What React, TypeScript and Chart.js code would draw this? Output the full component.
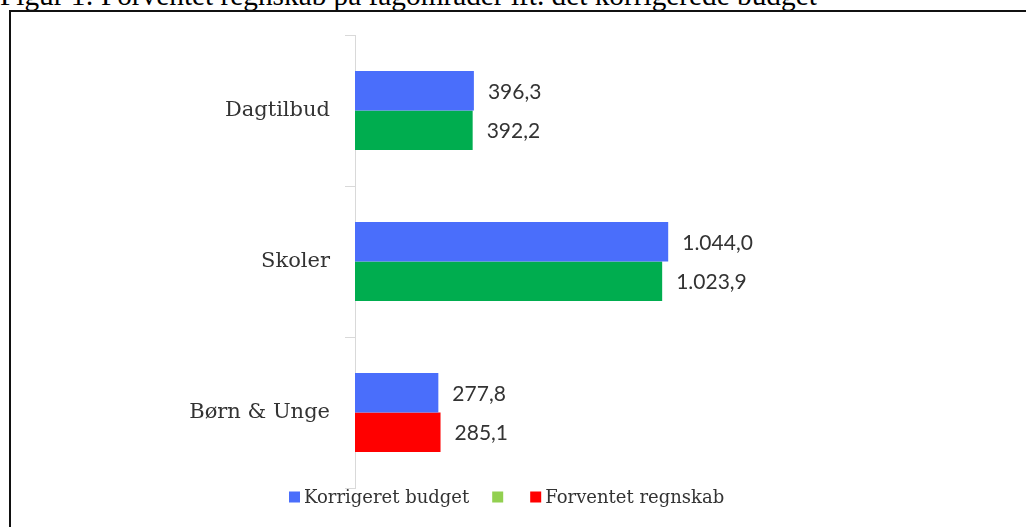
import React, { useEffect, useRef } from "react";
import { Chart, registerables } from "chart.js";

Chart.register(...registerables);

const titleText = "Figur 1: Forventet regnskab på fagområder ift. det korrigerede budget";
const categories = ["Dagtilbud", "Skoler", "Børn & Unge"];
const budgetValues = [396.3, 1044.0, 277.8];
const forecastValues = [392.2, 1023.9, 285.1];
const seriesNames = ["Korrigeret budget", "Forventet regnskab"];
const budgetColor = "#4A6EFB";
const forecastColors = ["#00AD4F", "#00AD4F", "#FF0000"];
const legendLabels = ["Korrigeret budget", "", "Forventet regnskab"];
const legendColors = ["#4A6EFB", "#92D050", "#FF0000"];
const xMax = 2000;

const serifFont = "'DejaVu Serif', serif";
const numberFont = "Lato, sans-serif";
const textColor = "#333333";

function fmt(v: number): string {
  const fixed = v.toFixed(1);
  const parts = fixed.split(".");
  const intPart = parts[0].replace(/\B(?=(\d{3})+(?!\d))/g, ".");
  return intPart + "," + parts[1];
}

const valueLabelPlugin = {
  id: "valueLabels",
  afterDatasetsDraw(chart: any) {
    const ctx = chart.ctx;
    ctx.save();
    ctx.font = `21px ${numberFont}`;
    ctx.fillStyle = textColor;
    ctx.textAlign = "left";
    ctx.textBaseline = "middle";
    chart.data.datasets.forEach((ds: any, i: number) => {
      const meta = chart.getDatasetMeta(i);
      meta.data.forEach((el: any, j: number) => {
        ctx.fillText(fmt(ds.data[j]), el.x + 14, el.y + 1);
      });
    });
    ctx.restore();
  },
};

const customLegendPlugin = {
  id: "customLegend",
  afterDraw(chart: any) {
    const ctx = chart.ctx;
    ctx.save();
    ctx.font = `18px ${serifFont}`;
    ctx.textBaseline = "middle";
    ctx.textAlign = "left";
    const cy = chart.chartArea.bottom + 9;
    let x = 278;
    const box = 11;
    legendLabels.forEach((label, i) => {
      ctx.fillStyle = legendColors[i];
      ctx.fillRect(x, cy - box / 2, box, box);
      x += box + 4;
      if (label) {
        ctx.fillStyle = textColor;
        ctx.fillText(label, x, cy + 1);
        x += ctx.measureText(label).width;
      }
      x += 23;
    });
    ctx.restore();
  },
};

export default function App() {
  const canvasRef = useRef<HTMLCanvasElement | null>(null);

  useEffect(() => {
    if (!canvasRef.current) return;
    const chart = new Chart(canvasRef.current, {
      type: "bar",
      data: {
        labels: categories,
        datasets: [
          {
            label: seriesNames[0],
            data: budgetValues,
            backgroundColor: budgetColor,
            categoryPercentage: 0.523,
            barPercentage: 1,
          },
          {
            label: seriesNames[1],
            data: forecastValues,
            backgroundColor: forecastColors,
            categoryPercentage: 0.523,
            barPercentage: 1,
          },
        ],
      },
      options: {
        indexAxis: "y",
        responsive: false,
        maintainAspectRatio: false,
        animation: false,
        devicePixelRatio: 1,
        layout: { padding: { top: 23, bottom: 39, left: 0, right: 71 } },
        plugins: {
          legend: { display: false },
          tooltip: { enabled: false },
          title: { display: false },
        },
        scales: {
          x: { display: false, min: 0, max: xMax },
          y: {
            afterFit: (scale: any) => {
              scale.width = 344;
              scale.paddingTop = 0;
              scale.paddingBottom = 0;
            },
            grid: {
              display: true,
              drawOnChartArea: false,
              drawTicks: true,
              tickLength: 10,
              color: "#d9d9d9",
              offset: true,
            },
            border: { display: true, color: "#d9d9d9", width: 1 },
            ticks: {
              font: { family: serifFont, size: 21 },
              color: textColor,
              padding: 15,
            },
          },
        },
      },
      plugins: [valueLabelPlugin, customLegendPlugin],
    } as any);
    return () => chart.destroy();
  }, []);

  return (
    <div
      style={{
        position: "fixed",
        left: 0,
        top: 0,
        width: 1026,
        height: 527,
        overflow: "hidden",
        background: "#fff",
      }}
    >
      <div
        style={{
          position: "absolute",
          left: 0,
          top: -19,
          fontFamily: "'Liberation Serif', 'Times New Roman', serif",
          fontSize: 29.3,
          lineHeight: "29px",
          whiteSpace: "nowrap",
          color: "#000",
        }}
      >
        {titleText}
      </div>
      <div
        style={{
          position: "absolute",
          left: 9,
          top: 10,
          width: 1100,
          height: 600,
          border: "2px solid #111",
          boxSizing: "border-box",
        }}
      />
      <canvas
        ref={canvasRef}
        width={1015}
        height={515}
        style={{ position: "absolute", left: 11, top: 12, width: 1015, height: 515 }}
      />
    </div>
  );
}
